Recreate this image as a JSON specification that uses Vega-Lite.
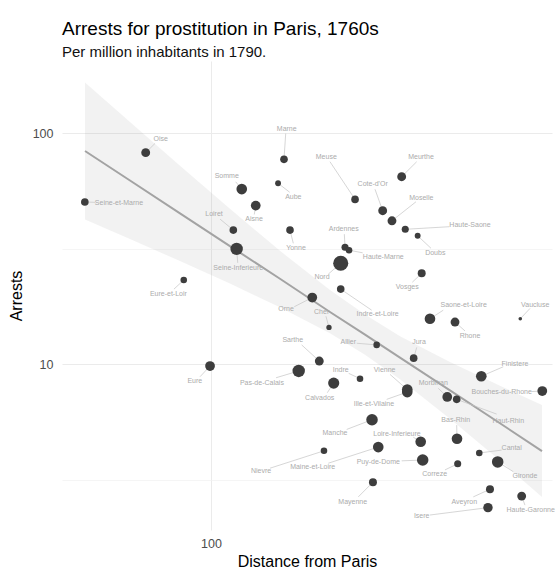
{
  "$schema": "https://vega.github.io/schema/vega-lite/v6.json",
  "width": 490,
  "height": 469,
  "autosize": {"type": "none"},
  "padding": {"left": 62, "top": 61, "right": 5, "bottom": 39},
  "background": "white",
  "title": {
    "text": "Arrests for prostitution in Paris, 1760s",
    "subtitle": "Per million inhabitants in 1790.",
    "anchor": "start",
    "frame": "group",
    "font": "Liberation Sans",
    "fontSize": 19,
    "fontWeight": "normal",
    "color": "#000000",
    "subtitleFont": "Liberation Sans",
    "subtitleFontSize": 15,
    "subtitleColor": "#111111",
    "subtitlePadding": 6,
    "offset": 1
  },
  "datasets": {
    "depts": [
      {"name": "Oise", "distance": 66.6, "arrests": 82.2, "population": 275, "label_distance": 73.1, "label_arrests": 94.2, "seg_distance": 70.6, "seg_arrests": 90.2},
      {"name": "Seine-et-Marne", "distance": 45.6, "arrests": 50.3, "population": 203, "label_distance": 56.4, "label_arrests": 49.9, "seg_distance": 48.6, "seg_arrests": 50.1},
      {"name": "Marne", "distance": 157.5, "arrests": 76.9, "population": 203, "label_distance": 160.2, "label_arrests": 104.1, "seg_distance": 159.2, "seg_arrests": 99.5},
      {"name": "Somme", "distance": 121.1, "arrests": 57.2, "population": 396, "label_distance": 110.3, "label_arrests": 65.3, "seg_distance": 116.6, "seg_arrests": 61.5},
      {"name": "Aube", "distance": 151.8, "arrests": 60.6, "population": 120, "label_distance": 166.9, "label_arrests": 52.7, "seg_distance": 163.2, "seg_arrests": 55.4},
      {"name": "Aisne", "distance": 132.1, "arrests": 48.5, "population": 333, "label_distance": 130.7, "label_arrests": 42.4, "seg_distance": 130.9, "seg_arrests": 44.4},
      {"name": "Loiret", "distance": 114.9, "arrests": 38.0, "population": 203, "label_distance": 101.9, "label_arrests": 44.5, "seg_distance": 105.8, "seg_arrests": 42.4},
      {"name": "Yonne", "distance": 163.5, "arrests": 38.0, "population": 203, "label_distance": 169.7, "label_arrests": 31.7, "seg_distance": 166.9, "seg_arrests": 33.3},
      {"name": "Seine-Inferieure", "distance": 117.3, "arrests": 31.5, "population": 539, "label_distance": 118.5, "label_arrests": 26.1, "seg_distance": 118.1, "seg_arrests": 27.4},
      {"name": "Eure-et-Loir", "distance": 84.4, "arrests": 23.1, "population": 151, "label_distance": 76.7, "label_arrests": 20.1, "seg_distance": 79.4, "seg_arrests": 21.1},
      {"name": "Meuse", "distance": 245.1, "arrests": 51.6, "population": 203, "label_distance": 204.9, "label_arrests": 79.0, "seg_distance": 209.7, "seg_arrests": 75.1},
      {"name": "Meurthe", "distance": 327.6, "arrests": 64.7, "population": 275, "label_distance": 369.5, "label_arrests": 79.0, "seg_distance": 359.7, "seg_arrests": 75.1},
      {"name": "Cote-d'Or", "distance": 291.1, "arrests": 46.1, "population": 275, "label_distance": 273.5, "label_arrests": 60.0, "seg_distance": 277.5, "seg_arrests": 57.1},
      {"name": "Moselle", "distance": 308.4, "arrests": 41.7, "population": 275, "label_distance": 370.2, "label_arrests": 52.5, "seg_distance": 358.2, "seg_arrests": 50.4},
      {"name": "Haute-Saone", "distance": 335.0, "arrests": 38.3, "population": 176, "label_distance": 501.2, "label_arrests": 39.9, "seg_distance": 440.7, "seg_arrests": 39.3},
      {"name": "Doubs", "distance": 361.9, "arrests": 35.9, "population": 120, "label_distance": 403.8, "label_arrests": 30.1, "seg_distance": 393.2, "seg_arrests": 31.7},
      {"name": "Ardennes", "distance": 230.3, "arrests": 32.0, "population": 176, "label_distance": 228.4, "label_arrests": 38.3, "seg_distance": 229.3, "seg_arrests": 36.5},
      {"name": "Haute-Marne", "distance": 236.1, "arrests": 31.1, "population": 151, "label_distance": 292.2, "label_arrests": 29.0, "seg_distance": 257.0, "seg_arrests": 30.3},
      {"name": "Nord", "distance": 224.2, "arrests": 27.3, "population": 795, "label_distance": 199.5, "label_arrests": 23.8, "seg_distance": 207.5, "seg_arrests": 24.5},
      {"name": "Vosges", "distance": 371.1, "arrests": 24.7, "population": 223, "label_distance": 339.2, "label_arrests": 21.6, "seg_distance": 350.0, "seg_arrests": 22.6},
      {"name": "Indre-et-Loire", "distance": 224.2, "arrests": 21.1, "population": 203, "label_distance": 282.1, "label_arrests": 16.5, "seg_distance": 271.8, "seg_arrests": 17.1},
      {"name": "Orne", "distance": 187.8, "arrests": 19.4, "population": 333, "label_distance": 159.5, "label_arrests": 17.3, "seg_distance": 167.9, "seg_arrests": 17.7},
      {"name": "Cher", "distance": 208.4, "arrests": 14.4, "population": 99, "label_distance": 199.1, "label_arrests": 16.8, "seg_distance": 204.5, "seg_arrests": 16.1},
      {"name": "Allier", "distance": 280.4, "arrests": 12.1, "population": 151, "label_distance": 235.0, "label_arrests": 12.5, "seg_distance": 247.7, "seg_arrests": 12.3},
      {"name": "Sarthe", "distance": 196.2, "arrests": 10.3, "population": 275, "label_distance": 166.3, "label_arrests": 12.7, "seg_distance": 175.8, "seg_arrests": 12.1},
      {"name": "Saone-et-Loire", "distance": 390.7, "arrests": 15.7, "population": 396, "label_distance": 481.9, "label_arrests": 18.0, "seg_distance": 424.4, "seg_arrests": 17.1},
      {"name": "Rhone", "distance": 456.6, "arrests": 15.2, "population": 275, "label_distance": 501.2, "label_arrests": 13.2, "seg_distance": 485.9, "seg_arrests": 13.9},
      {"name": "Vaucluse", "distance": 685.4, "arrests": 15.7, "population": 44, "label_distance": 752.4, "label_arrests": 18.0, "seg_distance": 728.1, "seg_arrests": 17.4},
      {"name": "Jura", "distance": 353.0, "arrests": 10.6, "population": 203, "label_distance": 364.9, "label_arrests": 12.4, "seg_distance": 359.7, "seg_arrests": 11.8},
      {"name": "Pas-de-Calais", "distance": 172.6, "arrests": 9.33, "population": 539, "label_distance": 137.3, "label_arrests": 8.30, "seg_distance": 149.9, "seg_arrests": 8.72},
      {"name": "Indre", "distance": 252.8, "arrests": 8.64, "population": 151, "label_distance": 224.2, "label_arrests": 9.45, "seg_distance": 235.6, "seg_arrests": 9.11},
      {"name": "Calvados", "distance": 214.6, "arrests": 8.27, "population": 437, "label_distance": 196.7, "label_arrests": 7.15, "seg_distance": 206.2, "seg_arrests": 7.51},
      {"name": "Ille-et-Vilaine", "distance": 339.2, "arrests": 7.56, "population": 396, "label_distance": 275.7, "label_arrests": 6.71, "seg_distance": 298.4, "seg_arrests": 7.03},
      {"name": "Vienne", "distance": 339.2, "arrests": 7.75, "population": 396, "label_distance": 294.7, "label_arrests": 9.39, "seg_distance": 304.6, "seg_arrests": 9.02},
      {"name": "Morbihan", "distance": 435.1, "arrests": 7.20, "population": 333, "label_distance": 398.8, "label_arrests": 8.25, "seg_distance": 411.4, "seg_arrests": 7.85},
      {"name": "Haut-Rhin", "distance": 461.4, "arrests": 7.03, "population": 203, "label_distance": 636.1, "label_arrests": 5.68, "seg_distance": 591.8, "seg_arrests": 6.07},
      {"name": "Finistere", "distance": 537.7, "arrests": 8.85, "population": 396, "label_distance": 663.2, "label_arrests": 9.97, "seg_distance": 616.6, "seg_arrests": 9.73},
      {"name": "Bouches-du-Rhone", "distance": 786.0, "arrests": 7.64, "population": 333, "label_distance": 610.5, "label_arrests": 7.54, "seg_distance": 735.8, "seg_arrests": 7.60},
      {"name": "Manche", "distance": 272.4, "arrests": 5.74, "population": 465, "label_distance": 216.3, "label_arrests": 5.01, "seg_distance": 232.7, "seg_arrests": 5.21},
      {"name": "Nievre", "distance": 202.0, "arrests": 4.21, "population": 151, "label_distance": 136.5, "label_arrests": 3.45, "seg_distance": 144.4, "seg_arrests": 3.54},
      {"name": "Maine-et-Loire", "distance": 283.2, "arrests": 4.37, "population": 396, "label_distance": 188.3, "label_arrests": 3.59, "seg_distance": 207.5, "seg_arrests": 3.72},
      {"name": "Loire-Inferieure", "distance": 368.8, "arrests": 4.61, "population": 396, "label_distance": 318.2, "label_arrests": 5.00, "seg_distance": 352.2, "seg_arrests": 4.82},
      {"name": "Puy-de-Dome", "distance": 373.4, "arrests": 3.84, "population": 465, "label_distance": 283.2, "label_arrests": 3.78, "seg_distance": 327.6, "seg_arrests": 3.81},
      {"name": "Bas-Rhin", "distance": 462.3, "arrests": 4.75, "population": 396, "label_distance": 458.6, "label_arrests": 5.72, "seg_distance": 461.4, "seg_arrests": 5.44},
      {"name": "Correze", "distance": 464.3, "arrests": 3.70, "population": 176, "label_distance": 402.3, "label_arrests": 3.33, "seg_distance": 428.9, "seg_arrests": 3.48},
      {"name": "Cantal", "distance": 531.0, "arrests": 4.12, "population": 151, "label_distance": 649.7, "label_arrests": 4.32, "seg_distance": 610.5, "seg_arrests": 4.24},
      {"name": "Gironde", "distance": 595.5, "arrests": 3.77, "population": 465, "label_distance": 705.6, "label_arrests": 3.27, "seg_distance": 656.2, "seg_arrests": 3.42},
      {"name": "Mayenne", "distance": 274.0, "arrests": 3.08, "population": 223, "label_distance": 241.6, "label_arrests": 2.54, "seg_distance": 250.1, "seg_arrests": 2.66},
      {"name": "Aveyron", "distance": 567.6, "arrests": 2.87, "population": 223, "label_distance": 483.7, "label_arrests": 2.53, "seg_distance": 511.6, "seg_arrests": 2.66},
      {"name": "Isere", "distance": 560.5, "arrests": 2.39, "population": 309, "label_distance": 371.1, "label_arrests": 2.20, "seg_distance": 390.7, "seg_arrests": 2.22},
      {"name": "Haute-Garonne", "distance": 691.4, "arrests": 2.68, "population": 275, "label_distance": 731.3, "label_arrests": 2.33, "seg_distance": 705.6, "seg_arrests": 2.45},
      {"name": "Eure", "distance": 99.4, "arrests": 9.80, "population": 333, "label_distance": 90.4, "label_arrests": 8.47, "seg_distance": 93.4, "seg_arrests": 8.81}
    ],
    "fit": [
      {"distance": 45.65, "arrests": 83.6, "lo": 42.2, "hi": 165.4},
      {"distance": 60.4, "arrests": 62.3, "lo": 34.8, "hi": 111.6},
      {"distance": 82.45, "arrests": 44.9, "lo": 27.9, "hi": 72.2},
      {"distance": 112.5, "arrests": 32.4, "lo": 22.3, "hi": 47.0},
      {"distance": 153.6, "arrests": 23.4, "lo": 17.6, "hi": 30.9},
      {"distance": 209.7, "arrests": 16.8, "lo": 13.6, "hi": 20.9},
      {"distance": 260.8, "arrests": 13.4, "lo": 10.98, "hi": 16.4},
      {"distance": 324.2, "arrests": 10.66, "lo": 8.60, "hi": 13.2},
      {"distance": 442.5, "arrests": 7.69, "lo": 5.80, "hi": 10.2},
      {"distance": 604.0, "arrests": 5.54, "lo": 3.82, "hi": 8.05},
      {"distance": 784.6, "arrests": 4.20, "lo": 2.66, "hi": 6.65}
    ]
  },
  "layer": [
    {
      "data": {"name": "fit"},
      "mark": {"type": "area", "color": "#999999", "opacity": 0.13, "clip": true},
      "encoding": {
        "x": {
          "field": "distance", "type": "quantitative", "title": "Distance from Paris",
          "scale": {"type": "log", "domain": [39.56, 835], "nice": false, "zero": false},
          "axis": {
            "values": [100], "format": "d", "domain": false, "ticks": false, "grid": true,
            "gridColor": "#ebebeb", "gridWidth": 1,
            "labelFont": "Liberation Sans", "labelFontSize": 12.5, "labelColor": "#4d4d4d", "labelPadding": 7,
            "titleFont": "Liberation Sans", "titleFontSize": 16, "titleFontWeight": "normal", "titleColor": "#000000", "titlePadding": 4
          }
        },
        "y": {
          "field": "lo", "type": "quantitative", "title": "Arrests",
          "scale": {"type": "log", "domain": [1.912, 205], "nice": false, "zero": false},
          "axis": {
            "values": [3.1623, 10, 31.623, 100], "format": "d",
            "labelExpr": "datum.value == 10 || datum.value == 100 ? datum.label : ''",
            "domain": false, "ticks": false, "grid": true,
            "gridColor": {"condition": {"test": "datum.value == 10 || datum.value == 100", "value": "#ebebeb"}, "value": "#f0f0f0"},
            "gridWidth": {"condition": {"test": "datum.value == 10 || datum.value == 100", "value": 1}, "value": 0.7},
            "labelFont": "Liberation Sans", "labelFontSize": 12.5, "labelColor": "#4d4d4d", "labelPadding": 9,
            "titleFont": "Liberation Sans", "titleFontSize": 16, "titleFontWeight": "normal", "titleColor": "#000000", "titlePadding": 8
          }
        },
        "y2": {"field": "hi"}
      }
    },
    {
      "data": {"name": "fit"},
      "mark": {"type": "line", "color": "#a3a3a3", "strokeWidth": 2, "clip": true},
      "encoding": {
        "x": {"field": "distance", "type": "quantitative", "title": "Distance from Paris"},
        "y": {"field": "arrests", "type": "quantitative", "title": "Arrests"}
      }
    },
    {
      "data": {"name": "depts"},
      "mark": {"type": "rule", "color": "#c4c4c4", "strokeWidth": 0.7},
      "encoding": {
        "x": {"field": "distance", "type": "quantitative", "title": "Distance from Paris"},
        "y": {"field": "arrests", "type": "quantitative", "title": "Arrests"},
        "x2": {"field": "seg_distance"},
        "y2": {"field": "seg_arrests"}
      }
    },
    {
      "data": {"name": "depts"},
      "mark": {"type": "circle", "color": "#3d3d3d", "opacity": 1},
      "encoding": {
        "x": {"field": "distance", "type": "quantitative", "title": "Distance from Paris"},
        "y": {"field": "arrests", "type": "quantitative", "title": "Arrests"},
        "size": {"field": "population", "type": "quantitative", "scale": {"type": "linear", "domain": [0, 800], "range": [0, 228.5]}, "legend": null}
      }
    },
    {
      "data": {"name": "depts"},
      "mark": {"type": "text", "color": "#ababab", "font": "Liberation Sans", "fontSize": 7, "align": "center", "baseline": "middle"},
      "encoding": {
        "x": {"field": "label_distance", "type": "quantitative", "title": "Distance from Paris"},
        "y": {"field": "label_arrests", "type": "quantitative", "title": "Arrests"},
        "text": {"field": "name"}
      }
    }
  ],
  "resolve": {"scale": {"x": "shared", "y": "shared"}},
  "config": {
    "view": {"stroke": null}
  }
}
